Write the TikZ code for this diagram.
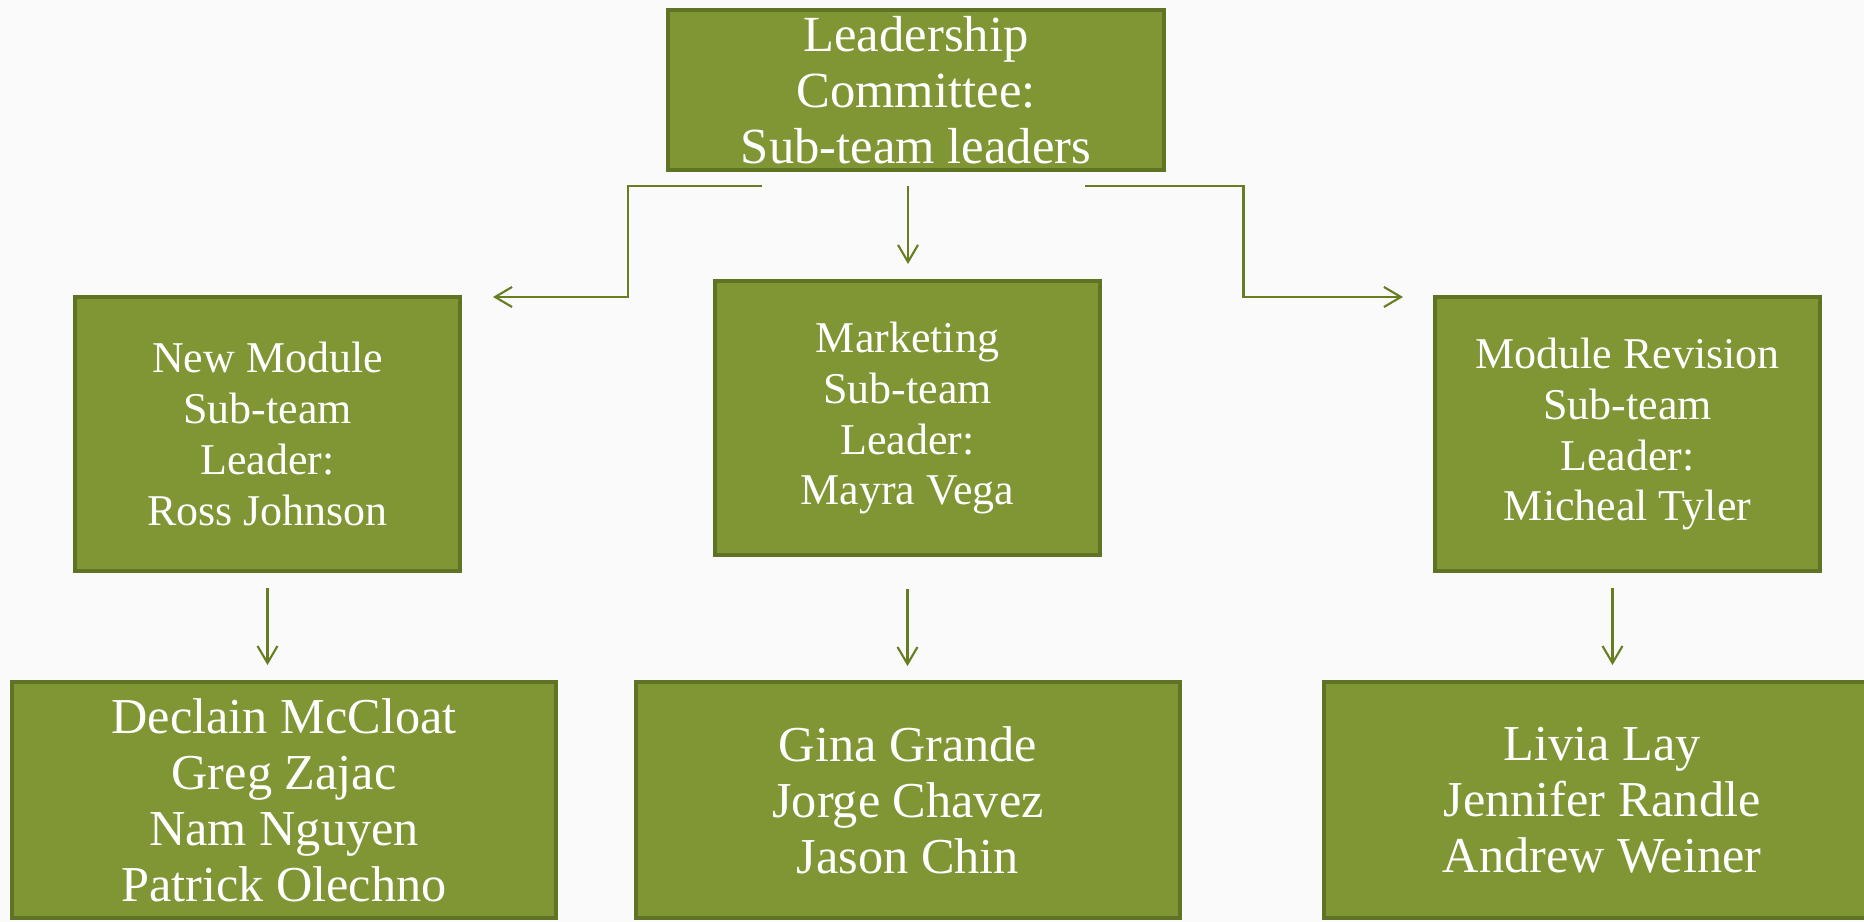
\documentclass[tikz,border=0pt]{standalone}
\usepackage{fontspec}
\setmainfont{Liberation Serif}
\usepackage{xcolor}
\usetikzlibrary{arrows.meta,positioning}

\definecolor{olivefill}{HTML}{809634}
\definecolor{oliveedge}{HTML}{5F7324}
\definecolor{olivelink}{HTML}{667D22}
\definecolor{paper}{HTML}{FAFAFA}

\begin{document}
\begin{tikzpicture}[
    x=0.01cm, y=-0.01cm,
    box/.style={rectangle, draw=oliveedge, fill=olivefill, line width=1.1pt, text=white, align=center, inner sep=0pt},
    lead/.style={box, minimum width=4.96cm, minimum height=1.60cm, font=\fontsize{14.4}{15.9}\selectfont},
    leader/.style={box, minimum width=3.85cm, minimum height=2.74cm, font=\fontsize{12.5}{14.5}\selectfont},
    team/.style={box, minimum width=5.44cm, minimum height=2.36cm, font=\fontsize{14.3}{15.9}\selectfont},
    link/.style={draw=olivelink, line width=0.6pt, -{Straight Barb[length=0.17cm, width=0.2cm]}}
]
\useasboundingbox (0,0) rectangle (1864,922);
\fill[paper] (0,0) rectangle (1864,922);

% Committee on top
\node[lead] (committee) at (916,90) {Leadership\\Committee:\\Sub-team leaders};

% Sub-team leaders
\node[leader] (newmod) at (267.5,434) {New Module\\Sub-team\\Leader:\\Ross Johnson};
\node[leader] (market) at (907.5,418) {Marketing\\Sub-team\\Leader:\\Mayra Vega};
\node[leader] (revision) at (1627.5,434) {Module Revision\\Sub-team\\Leader:\\Micheal Tyler};

% Team members
\node[team] (newteam) at (284,800) {Declain McCloat\\Greg Zajac\\Nam Nguyen\\Patrick Olechno};
\node[team] (marketteam) at (908,800) {Gina Grande\\Jorge Chavez\\Jason Chin};
\node[team, minimum width=5.56cm] (revteam) at (1602,800) {Livia Lay\\Jennifer Randle\\Andrew Weiner};

% Split below the committee
\coordinate (forkL) at (762,186);
\coordinate (bendL) at (628,297);
\coordinate (tipL) at (493,297);
\coordinate (forkM) at (908,186);
\coordinate (tipM) at (908,264);
\coordinate (forkR) at (1085,186);
\coordinate (bendR) at (1243.5,297);
\coordinate (tipR) at (1403,297);

\draw[link] (forkL) -| (bendL) -- (tipL);
\draw[link] (forkM) -- (tipM);
\draw[link] (forkR) -| (bendR) -- (tipR);

% Leaders to their teams
\draw[link] ([yshift=-0.15cm]newmod.south) -- ([yshift=-0.92cm]newmod.south);
\draw[link] ([yshift=-0.32cm]market.south) -- ([yshift=-1.09cm]market.south);
\draw[link] ([xshift=-0.15cm,yshift=-0.15cm]revision.south) -- ([xshift=-0.15cm,yshift=-0.92cm]revision.south);

\end{tikzpicture}
\end{document}
